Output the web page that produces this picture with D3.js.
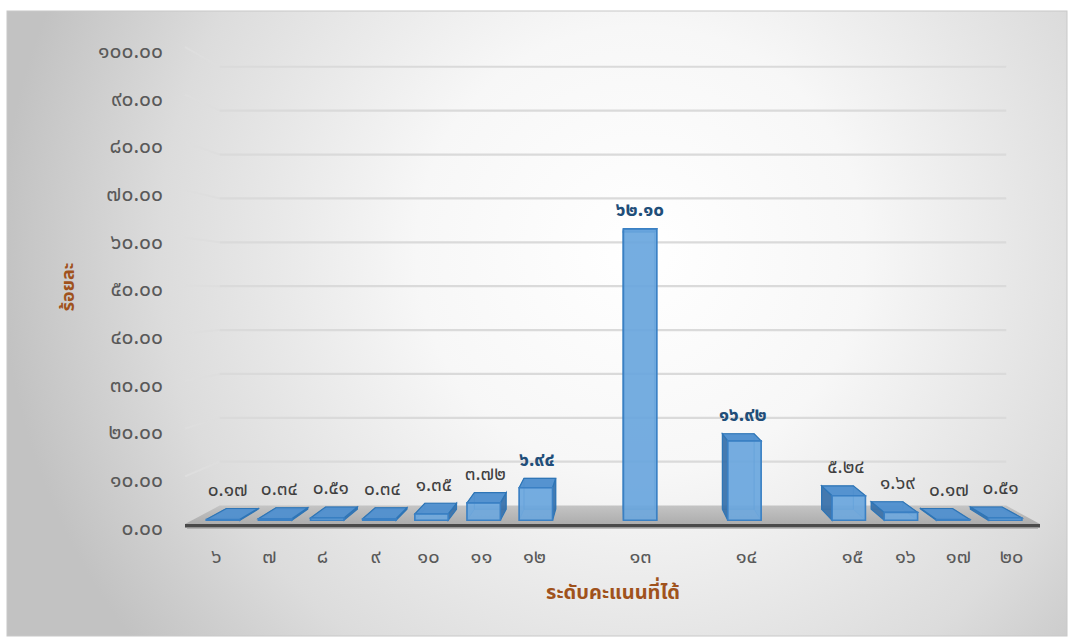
<!DOCTYPE html>
<html><head><meta charset="utf-8">
<script src="https://cdn.jsdelivr.net/npm/d3@7"></script>
<style>
html,body{margin:0;padding:0;background:#fff;}
svg{display:block;}
text{font-family:"Noto Sans Thai","Noto Sans Thai UI","Noto Looped Thai","Garuda","Loma","Tlwg Typo","Noto Sans",sans-serif;}
</style></head>
<body>
<svg id="chart" width="1070" height="639"></svg>
<script>
// ---- data ----
const categories = ["๖","๗","๘","๙","๑๐","๑๑","๑๒","","๑๓","","๑๔","","๑๕","๑๖","๑๗","๒๐"];
const values     = [0.17,0.34,0.51,0.34,1.35,3.72,6.94,null,62.10,null,16.92,null,5.24,1.69,0.17,0.51];
const highlighted = ["๑๒","๑๓","๑๔"];
const yTicks = [0,10,20,30,40,50,60,70,80,90,100];
const yTitle = "ร้อยละ";
const xTitle = "ระดับคะแนนที่ได้";

const thaiDigits = "๐๑๒๓๔๕๖๗๘๙";
const toThai = s => String(s).replace(/[0-9]/g, d => thaiDigits[+d]);
const fmt = v => toThai(v.toFixed(2));

const svg = d3.select("#chart");
const defs = svg.append("defs");

// background
const rg = defs.append("radialGradient").attr("id","bg")
  .attr("gradientUnits","userSpaceOnUse").attr("cx",640).attr("cy",250).attr("r",640);
rg.append("stop").attr("offset","0%").attr("stop-color","#ffffff");
rg.append("stop").attr("offset","35%").attr("stop-color","#f7f7f7");
rg.append("stop").attr("offset","75%").attr("stop-color","#dcdcdc");
rg.append("stop").attr("offset","100%").attr("stop-color","#c2c2c2");
svg.append("rect").attr("x",7).attr("y",11).attr("width",1060).attr("height",625)
  .attr("fill","url(#bg)").attr("stroke","#c8c8c8").attr("stroke-width",1);

// scales (front plane)
const wallX = [185,1040];
const x = d3.scaleBand().domain(d3.range(categories.length)).range([190,1038]).padding(0);
const y = d3.scaleLinear().domain([0,100]).range([524,47]);

// simple perspective projection
const V = {x:618, y:294}, K = 0.08;
const P = (px,py,d) => { const s = 1 - K*d; return [V.x+(px-V.x)*s, V.y+(py-V.y)*s]; };
const poly = pts => "M" + pts.map(p=>p.join(",")).join("L") + "Z";

// gridlines: side wall + back wall
const grid = svg.append("g");
yTicks.forEach(t => {
  if (t === 0) return;
  const a = P(wallX[0], y(t), 0), b = P(wallX[0], y(t), 1), c = P(wallX[1], y(t), 1);
  grid.append("line").attr("x1",a[0]).attr("y1",a[1]).attr("x2",b[0]).attr("y2",b[1])
    .attr("stroke","#dedede").attr("stroke-width",2);
  grid.append("line").attr("x1",b[0]).attr("y1",b[1]).attr("x2",c[0]).attr("y2",c[1])
    .attr("stroke","#dadada").attr("stroke-width",2.2);
});

// floor
const fg = defs.append("linearGradient").attr("id","floor").attr("x1",0).attr("y1",0).attr("x2",0).attr("y2",1);
fg.append("stop").attr("offset","0%").attr("stop-color","#c4c4c4");
fg.append("stop").attr("offset","100%").attr("stop-color","#adadad");
const y0 = y(0);
svg.append("path").attr("d", poly([P(wallX[0],y0,0),P(wallX[1],y0,0),P(wallX[1],y0,1),P(wallX[0],y0,1)]))
  .attr("fill","url(#floor)");
svg.append("rect").attr("x",wallX[0]).attr("y",y0).attr("width",wallX[1]-wallX[0]).attr("height",3.5)
  .attr("fill","#4a4a4a");
svg.append("rect").attr("x",wallX[0]+2).attr("y",y0+3.5).attr("width",wallX[1]-wallX[0]-4).attr("height",1.5)
  .attr("fill","#9a9a9a").attr("opacity",0.6);

// y tick labels
svg.append("g").selectAll("text").data(yTicks).join("text")
  .attr("x",163).attr("y",t => y(t)+5).attr("text-anchor","end").attr("dominant-baseline","middle")
  .attr("font-size",21).attr("fill","#595959").text(t => fmt(t));

// x tick labels
svg.append("g").selectAll("text").data(categories).join("text")
  .attr("x",(c,i) => x(i)+x.bandwidth()/2).attr("y",557).attr("text-anchor","middle")
  .attr("dominant-baseline","middle").attr("font-size",20).attr("fill","#595959").text(c => c);

// bars
const D0 = 0.2, D1 = 0.8, barFrac = 0.64;
const bars = svg.append("g");
values.forEach((v,i) => {
  if (v == null) return;
  const cx = x(i) + x.bandwidth()/2, w = x.bandwidth()*barFrac;
  const x0 = cx - w/2, x1 = cx + w/2, yb = y(0), yt = y(v);
  const g = bars.append("g");
  const edge = "#2e75b6";
  g.append("path").attr("d", poly([P(x0,yt,D1),P(x1,yt,D1),P(x1,yb,D1),P(x0,yb,D1)]))
    .attr("fill","#5b9bd5").attr("fill-opacity",0.35).attr("stroke",edge).attr("stroke-opacity",0.5).attr("stroke-width",1);
  const leftSide = poly([P(x0,yt,D0),P(x0,yt,D1),P(x0,yb,D1),P(x0,yb,D0)]);
  const rightSide = poly([P(x1,yt,D0),P(x1,yt,D1),P(x1,yb,D1),P(x1,yb,D0)]);
  const visRight = cx < V.x;
  g.append("path").attr("d", visRight ? leftSide : rightSide)
    .attr("fill","#5b9bd5").attr("fill-opacity",0.3).attr("stroke",edge).attr("stroke-opacity",0.4).attr("stroke-width",1);
  g.append("path").attr("d", visRight ? rightSide : leftSide)
    .attr("fill","#2f6aa6").attr("fill-opacity",0.85).attr("stroke",edge).attr("stroke-width",1.2);
  g.append("path").attr("d", poly([P(x0,yt,D0),P(x1,yt,D0),P(x1,yt,D1),P(x0,yt,D1)]))
    .attr("fill","#4f8fcf").attr("fill-opacity",0.95).attr("stroke",edge).attr("stroke-width",1.2);
  g.append("path").attr("d", poly([P(x0,yt,D0),P(x1,yt,D0),P(x1,yb,D0),P(x0,yb,D0)]))
    .attr("fill","#6aa6de").attr("fill-opacity",0.88).attr("stroke","#3a80c4").attr("stroke-width",1.6);
});

// data labels
svg.append("g").selectAll("text").data(values.map((v,i)=>({v,i})).filter(d=>d.v!=null)).join("text")
  .attr("x", d => P(x(d.i)+x.bandwidth()/2, 0, 0.35)[0])
  .attr("y", d => Math.min(P(0,y(d.v),D1)[1], P(0,y(d.v),D0)[1]) - 18)
  .attr("text-anchor","middle").attr("dominant-baseline","middle")
  .attr("font-size",19)
  .attr("font-weight", d => highlighted.includes(categories[d.i]) ? "bold" : "normal")
  .attr("fill", d => highlighted.includes(categories[d.i]) ? "#1f4e79" : "#404040")
  .text(d => fmt(d.v));

// axis titles
svg.append("text").attr("transform","translate(69,287) rotate(-90)")
  .attr("text-anchor","middle").attr("dominant-baseline","middle")
  .attr("font-size",18).attr("font-weight","bold").attr("fill","#a0521c").text(yTitle);
svg.append("text").attr("x",613).attr("y",593)
  .attr("text-anchor","middle").attr("dominant-baseline","middle")
  .attr("font-size",20).attr("font-weight","bold").attr("fill","#a0521c").text(xTitle);
</script>
</body></html>
